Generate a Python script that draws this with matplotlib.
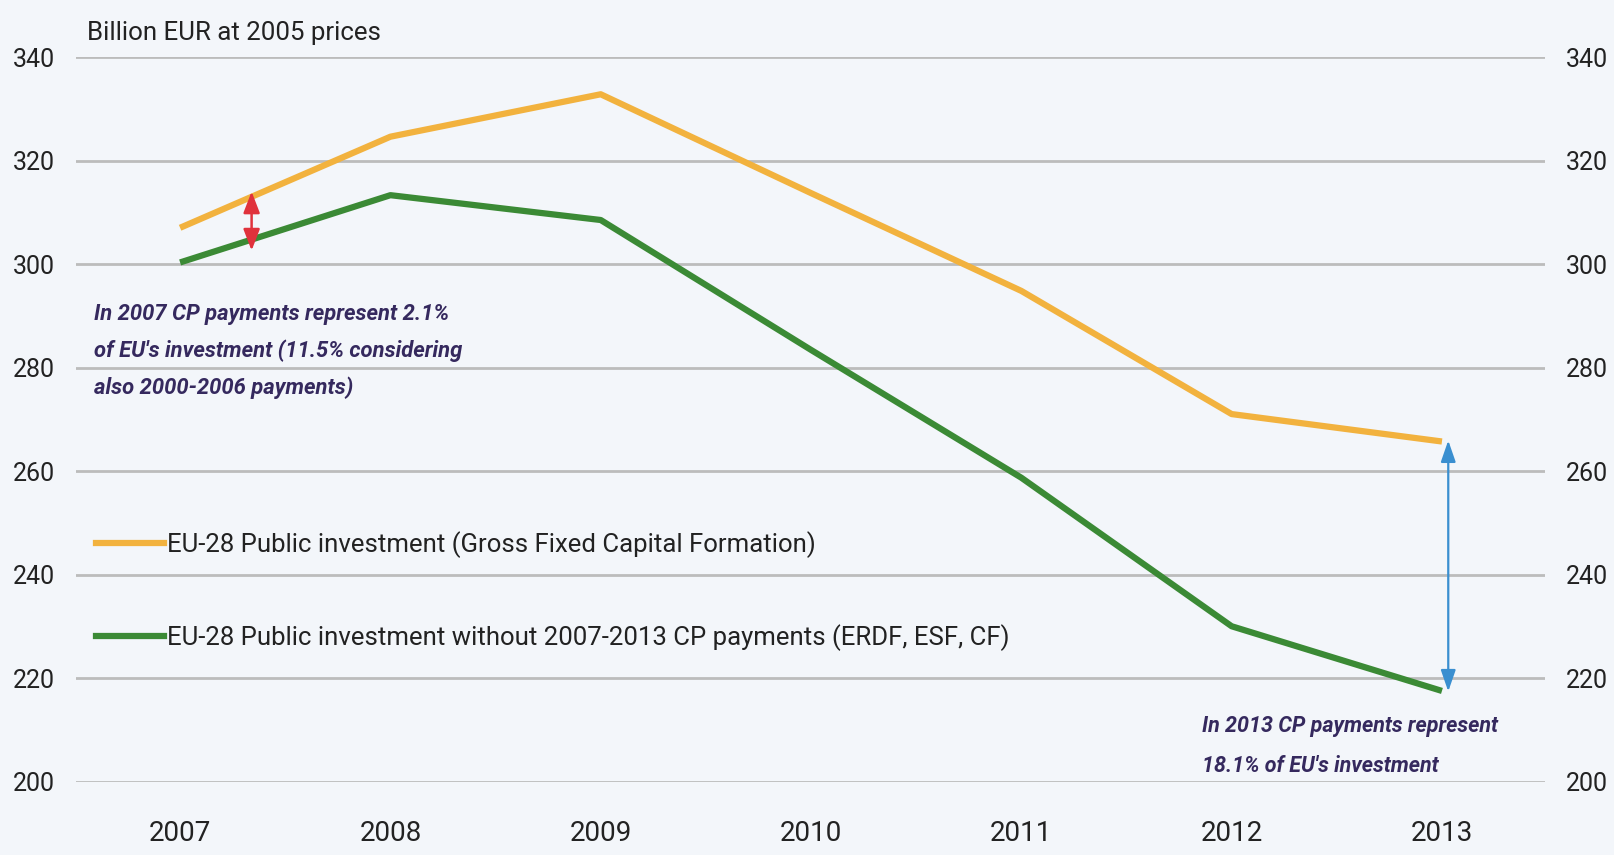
import numpy as np
import matplotlib
matplotlib.use("Agg")
import matplotlib.pyplot as plt
from matplotlib.lines import Line2D

years = [2007, 2008, 2009, 2010, 2011, 2012, 2013]
gfcf = [307.0, 324.6, 332.8, 313.7, 294.8, 271.0, 265.7]
gfcf_wo_cp = [300.3, 313.3, 308.5, 283.4, 258.7, 230.0, 217.5]
yticks = [200, 220, 240, 260, 280, 300, 320, 340]

label_gfcf = "EU-28 Public investment (Gross Fixed Capital Formation)"
label_wo = "EU-28 Public investment without 2007-2013 CP payments (ERDF, ESF, CF)"
note_2007 = "In 2007 CP payments represent 2.1%\nof EU's investment (11.5% considering\nalso 2000-2006 payments)"
note_2013 = "In 2013 CP payments represent\n18.1% of EU's investment"

plt.rcParams['font.family'] = ['Roboto', 'DejaVu Sans']

orange = "#f2b23e"
green = "#3b8a35"
bg = "#f3f6fa"
ink = "#222222"
purple = "#35295e"

fig = plt.figure(figsize=(16.14, 8.55), dpi=100, facecolor=bg)
ax = fig.add_axes([76/1614, 1 - 781.5/855, (1545-76)/1614, (781.5-57)/855])
ax.set_facecolor(bg)

ax.plot(years, gfcf, color=orange, lw=4.5, solid_capstyle='butt', zorder=3)
ax.plot(years, gfcf_wo_cp, color=green, lw=4.5, solid_capstyle='butt', zorder=3)

ax.set_xlim(2006.505, 2013.49)
ax.set_ylim(200, 340)
ax.set_yticks(yticks)
ax.set_xticks(years)
ax.grid(axis='y', color="#bcbcbc", lw=2.0)
ax.set_axisbelow(True)
for s in ax.spines.values():
    s.set_visible(False)
ax.tick_params(axis='both', length=0, colors=ink)
ax.tick_params(axis='y', pad=15, labelsize=18, labelleft=True, labelright=True)
ax.tick_params(axis='x', pad=28, labelsize=20)

# arrows between the two series
x_red = 2007.34
ax.annotate("", xy=(x_red, 302.6), xytext=(x_red, 314.0),
            arrowprops=dict(arrowstyle='<|-|>,head_length=1.3,head_width=0.5',
                            color="#e0323c", lw=1.8, shrinkA=0, shrinkB=0), zorder=4)
x_blue = 2013.03
ax.annotate("", xy=(x_blue, 217.4), xytext=(x_blue, 265.9),
            arrowprops=dict(arrowstyle='<|-|>,head_length=1.3,head_width=0.45',
                            color="#3a8fd0", lw=1.6, shrinkA=0, shrinkB=0), zorder=4)

handles = [Line2D([], [], color=orange, lw=4.5), Line2D([], [], color=green, lw=4.5)]
ax.legend(handles, [label_gfcf, label_wo], loc='upper left',
          bbox_to_anchor=(20/1469, 1 - (531-57)/724.5), frameon=False,
          fontsize=18.5, handlelength=2.65, handletextpad=0.1, labelspacing=2.58,
          borderaxespad=0, borderpad=0, labelcolor=ink)

fig.text(87/1614, 1 - 40/855, "Billion EUR at 2005 prices", fontsize=18.6,
         color=ink, va='baseline', ha='left')
fig.text(94/1614, 1 - 351/855, note_2007, fontsize=15.8, color=purple,
         fontweight='bold', fontstyle='italic', va='center', ha='left', linespacing=1.85)
fig.text(1202/1614, 1 - 746/855, note_2013, fontsize=15.5, color=purple,
         fontweight='bold', fontstyle='italic', va='center', ha='left', linespacing=2.1)

fig.savefig("out.png", dpi=100, facecolor=bg)
